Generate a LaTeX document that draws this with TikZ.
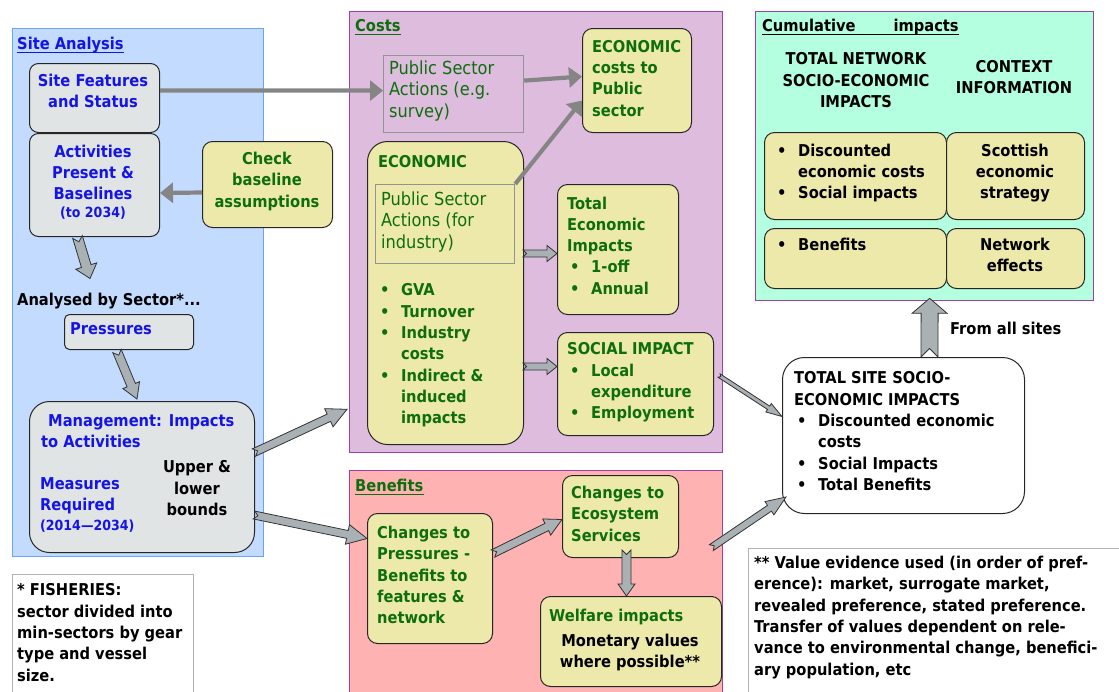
\documentclass[tikz,border=0pt]{standalone}
\usepackage{fontspec}
\setmainfont{DejaVu Sans Condensed}
\usetikzlibrary{calc,arrows.meta}
\definecolor{siteblue}{HTML}{C2DBFF}
\definecolor{siteedge}{HTML}{6AA5F5}
\definecolor{costpur}{HTML}{DEBCDD}
\definecolor{costedge}{HTML}{9C3FA6}
\definecolor{benpink}{HTML}{FFB2B2}
\definecolor{cumgreen}{HTML}{B3FFDF}
\definecolor{boxgrey}{HTML}{E0E4E4}
\definecolor{boxyel}{HTML}{EDE9AA}
\definecolor{txtgreen}{HTML}{0E6E0E}
\definecolor{txtblue}{HTML}{1414E6}
\definecolor{arrgrey}{HTML}{A9B1B5}
\definecolor{linegrey}{HTML}{858585}
\newcommand\bul{\makebox[21pt][l]{\textbullet}}
\newcommand\ind{\hspace*{21pt}}
\newcommand\barrow[6][]{%
  \path (#2) coordinate (ba-s) (#3) coordinate (ba-e);
  \path ($(ba-e)!#6!(ba-s)$) coordinate (ba-h);
  \draw[blockarrow,#1] ($(ba-s)!#4!90:(ba-e)$) -- ($(ba-h)!#4!90:(ba-e)$) -- ($(ba-h)!#5!90:(ba-e)$) -- (ba-e) -- ($(ba-h)!#5!-90:(ba-e)$) -- ($(ba-h)!#4!-90:(ba-e)$) -- ($(ba-s)!#4!-90:(ba-e)$) -- ($(ba-s)!#4!(ba-e)$) -- cycle;
}
\tikzset{
 panel/.style={anchor=north west, inner sep=0pt, line width=1.3pt},
 gbox/.style={anchor=north west, inner sep=0pt, draw=black!85, fill=boxgrey, line width=1pt, rounded corners=9pt},
 ybox/.style={anchor=north west, inner sep=0pt, draw=black!85, fill=boxyel, line width=1pt, rounded corners=10pt},
 rbox/.style={anchor=north west, inner sep=0pt, draw=gray!85, line width=1.2pt},
 t/.style={inner sep=0pt, anchor=north west, align=left, font=\bfseries\fontsize{16.3}{21.3}\selectfont},
 tc/.style={t, anchor=north, align=center},
 tr/.style={t, font=\fontsize{18}{21.5}\selectfont},
 small/.style={t, font=\bfseries\fontsize{14}{16}\selectfont},
 ttl/.style={inner sep=0pt, anchor=base west, font=\bfseries\fontsize{16.3}{20}\selectfont},
 ul/.style={line width=1.8pt},
 lnarrow/.style={draw=linegrey, line width=4.2pt, -{Triangle[length=13pt,width=20pt]}},
 blockarrow/.style={fill=arrgrey, draw=black!80, line width=0.8pt, line join=miter},
}
\begin{document}
\begin{tikzpicture}[x=1pt,y=-1pt]
\useasboundingbox (0,0) rectangle (1119,691);
\clip (0,0) rectangle (1119,691);
% panels
\node[panel, draw=siteedge, fill=siteblue, minimum width=251pt, minimum height=528pt] (psite) at (12,28) {};
\node[panel, draw=costedge, fill=costpur, minimum width=373pt, minimum height=441pt] (pcost) at (349,11) {};
\node[panel, draw=costedge, fill=benpink, minimum width=373pt, minimum height=235pt] (pben) at (349,470) {};
\node[panel, draw=costedge, fill=cumgreen, minimum width=338pt, minimum height=289pt] (pcum) at (755,11) {};
\node[panel, draw=gray!60, fill=white, minimum width=181pt, minimum height=130pt] (pfish) at (12,574) {};
\node[panel, draw=gray!60, fill=white, minimum width=380pt, minimum height=150pt] (pval) at (748,548) {};
% titles
\node[ttl, text=txtblue] (tsite) at (17,49) {Site Analysis};
\draw[ul, txtblue] ([yshift=-3.5pt]tsite.base west) -- ([yshift=-3.5pt]tsite.base east);
\node[ttl, text=txtgreen] (tcost) at (355,31) {Costs};
\draw[ul, txtgreen] ([yshift=-3.5pt]tcost.base west) -- ([yshift=-3.5pt]tcost.base east);
\node[ttl, text=txtgreen] (tben) at (355,491) {Benefits};
\draw[ul, txtgreen] ([yshift=-3.5pt]tben.base west) -- ([yshift=-3.5pt]tben.base east);
\node[ttl] (tcum) at (762,31) {Cumulative\hspace{38pt}impacts};
\draw[ul] ([yshift=-3.5pt]tcum.base west) -- ([yshift=-3.5pt]tcum.base east);
% boxes
\node[gbox, minimum width=130pt, minimum height=69pt] (sitefeat) at (29,63) {};
\node[gbox, minimum width=130pt, minimum height=103pt] (activ) at (29,133) {};
\node[ybox, minimum width=130pt, minimum height=86pt] (check) at (202,141) {};
\node[gbox, rounded corners=5pt, minimum width=129pt, minimum height=35pt] (press) at (64,314) {};
\node[gbox, rounded corners=20pt, minimum width=225pt, minimum height=151pt] (manage) at (29,401) {};
\node[rbox, minimum width=140pt, minimum height=77pt] (psa1) at (383,55) {};
\node[ybox, minimum width=109pt, minimum height=104pt] (econpub) at (582,28) {};
\node[ybox, rounded corners=20pt, minimum width=156pt, minimum height=303pt] (econ) at (367,141) {};
\node[rbox, minimum width=139pt, minimum height=79pt] (psa2) at (375,184) {};
\node[ybox, minimum width=121pt, minimum height=130pt] (totecon) at (557,184) {};
\node[ybox, minimum width=156pt, minimum height=103pt] (social) at (557,332) {};
\node[ybox, minimum width=125pt, minimum height=130pt] (chpress) at (367,513) {};
\node[ybox, minimum width=116pt, minimum height=82pt] (checo) at (562,475) {};
\node[ybox, minimum width=181pt, minimum height=90pt] (welfare) at (540,596) {};
\node[ybox, minimum width=182pt, minimum height=87pt] (c1) at (764,132) {};
\node[ybox, minimum width=138pt, minimum height=87pt] (c2) at (946,132) {};
\node[ybox, minimum width=182pt, minimum height=60pt] (c3) at (764,228) {};
\node[ybox, minimum width=138pt, minimum height=60pt] (c4) at (946,228) {};
\node[gbox, fill=white, rounded corners=22pt, minimum width=242pt, minimum height=156pt] (totsite) at (782,357) {};
% texts
\node[tc, text=txtblue] (tsf) at (93,73.5) {Site Features\\and Status};
\node[tc, text=txtblue] (tact) at (93,144.5) {Activities\\Present \&\\Baselines};
\node[small, anchor=north, text=txtblue] (tact2) at (93,206.5) {(to 2034)};
\node[tc, text=txtgreen] (tchk) at (267,152) {Check\\baseline\\assumptions};
\node[t] (tanal) at (17,292.5) {Analysed by Sector*...};
\node[t, text=txtblue] (tpress) at (70,322.5) {Pressures};
\node[t, text=txtblue] (tman) at (41,414.5) {\hspace*{7pt}Management: Impacts\\to Activities};
\node[t, text=txtblue] (tmeas) at (40,477.5) {Measures\\Required};
\node[small, text=txtblue] (tmeas2) at (40,520) {(2014—2034)};
\node[tc] (tupp) at (197,460.5) {Upper \&\\lower\\bounds};
\node[t] (tfish) at (17,583.5) {* FISHERIES:\\sector divided into\\min-sectors by gear\\type and vessel\\size.};
\node[tr, text=txtgreen] (tpsa1) at (389,60.5) {Public Sector\\Actions (e.g.\\survey)};
\node[t, text=txtgreen] (tepub) at (592,40) {ECONOMIC\\costs to\\Public\\sector};
\node[t, text=txtgreen] (tecon) at (378,155) {ECONOMIC};
\node[tr, text=txtgreen] (tpsa2) at (381,191.5) {Public Sector\\Actions (for\\industry)};
\node[t, text=txtgreen] (tbul) at (380,283.5) {\bul GVA\\\bul Turnover\\\bul Industry\\\ind costs\\\bul Indirect \&\\\ind induced\\\ind impacts};
\node[t, text=txtgreen] (ttot) at (567,196.5) {Total\\Economic\\Impacts\\\hspace*{3pt}\bul 1-off\\\hspace*{3pt}\bul Annual};
\node[t, text=txtgreen] (tsoc) at (567,342.5) {SOCIAL IMPACT\\\hspace*{3pt}\bul Local\\\hspace*{3pt}\ind expenditure\\\hspace*{3pt}\bul Employment};
\node[t, text=txtgreen] (tchp) at (377,526) {Changes to\\Pressures -\\Benefits to\\features \&\\network};
\node[t, text=txtgreen] (tche) at (571,486) {Changes to\\Ecosystem\\Services};
\node[t, text=txtgreen] (twel) at (549,608.5) {Welfare impacts};
\node[tc] (tmon) at (630,633.5) {Monetary values\\where possible**};
\node[tc] (ttn) at (856,52.5) {TOTAL NETWORK\\SOCIO-ECONOMIC\\IMPACTS};
\node[tc] (tci) at (1014,60) {CONTEXT\\INFORMATION};
\node[t] (tc1) at (777,143.5) {\bul Discounted\\\ind economic costs\\\bul Social impacts};
\node[tc] (tc2) at (1015,143.5) {Scottish\\economic\\strategy};
\node[t] (tc3) at (777,237.5) {\bul Benefits};
\node[tc] (tc4) at (1015,237.5) {Network\\effects};
\node[t] (tfrom) at (950,321.5) {From all sites};
\node[t] (tts) at (794,371.5) {TOTAL SITE SOCIO-\\ECONOMIC IMPACTS\\\hspace*{3pt}\bul Discounted economic\\\hspace*{3pt}\ind costs\\\hspace*{3pt}\bul Social Impacts\\\hspace*{3pt}\bul Total Benefits};
\node[t] (tval) at (754,556) {** Value evidence used (in order of pref-\\erence): market, surrogate market,\\revealed preference, stated preference.\\Transfer of values dependent on rele-\\vance to environmental change, benefici-\\ary population, etc};
% line arrows
\draw[lnarrow] ($(sitefeat.east)+(0,-7.5)$) -- ($(psa1.west)+(0,-3.5)$);
\draw[lnarrow] ($(psa1.east)+(0,-13.5)$) -- ($(econpub.west)+(0,-4)$);
\draw[lnarrow] (psa2.north east) -- ($(econpub.west)+(0,20)$);
\draw[lnarrow] ($(check.west)+(0,8)$) -- ($(activ.east)+(0,8)$);
% block arrows
\barrow{$(activ.south)+(-17,0)$}{$(tanal.north west)+(73,-14)$}{5pt}{11pt}{13pt}
\barrow{$(press.south west)+(53,1)$}{$(manage.north west)+(108,-2)$}{4.5pt}{9pt}{15pt}
\barrow{$(manage.east)+(-1,-24.5)$}{$(pcost.south west)+(-2,-44)$}{4pt}{10pt}{20pt}
\barrow{$(manage.east)+(-1,38)$}{$(chpress.west)+(0,-40)$}{4pt}{10pt}{20pt}
\barrow{$(econ.east)+(-1,-39.5)$}{$(totecon.west)+(0,4)$}{3.5pt}{8pt}{10pt}
\barrow{$(econ.east)+(-1,73.5)$}{$(social.west)+(0,-17.5)$}{3.5pt}{8pt}{10pt}
\barrow{$(social.east)+(5,-8.5)$}{$(totsite.west)+(0,-19)$}{2pt}{5pt}{16pt}
\barrow{$(chpress.east)+(0,-25)$}{$(checo.west)+(0,3)$}{4pt}{9pt}{17pt}
\barrow{$(checo.south)+(6,-8)$}{$(welfare.north)+(-4.5,0)$}{4.5pt}{8.5pt}{12pt}
\barrow{$(pben.east)+(-12,-40.5)$}{$(totsite.south west)+(4,-17)$}{3.5pt}{8pt}{20pt}
\barrow{$(totsite.north)+(26,0)$}{$(pcum.south)+(5,-3)$}{8.5pt}{17.5pt}{15pt}
\end{tikzpicture}
\end{document}
